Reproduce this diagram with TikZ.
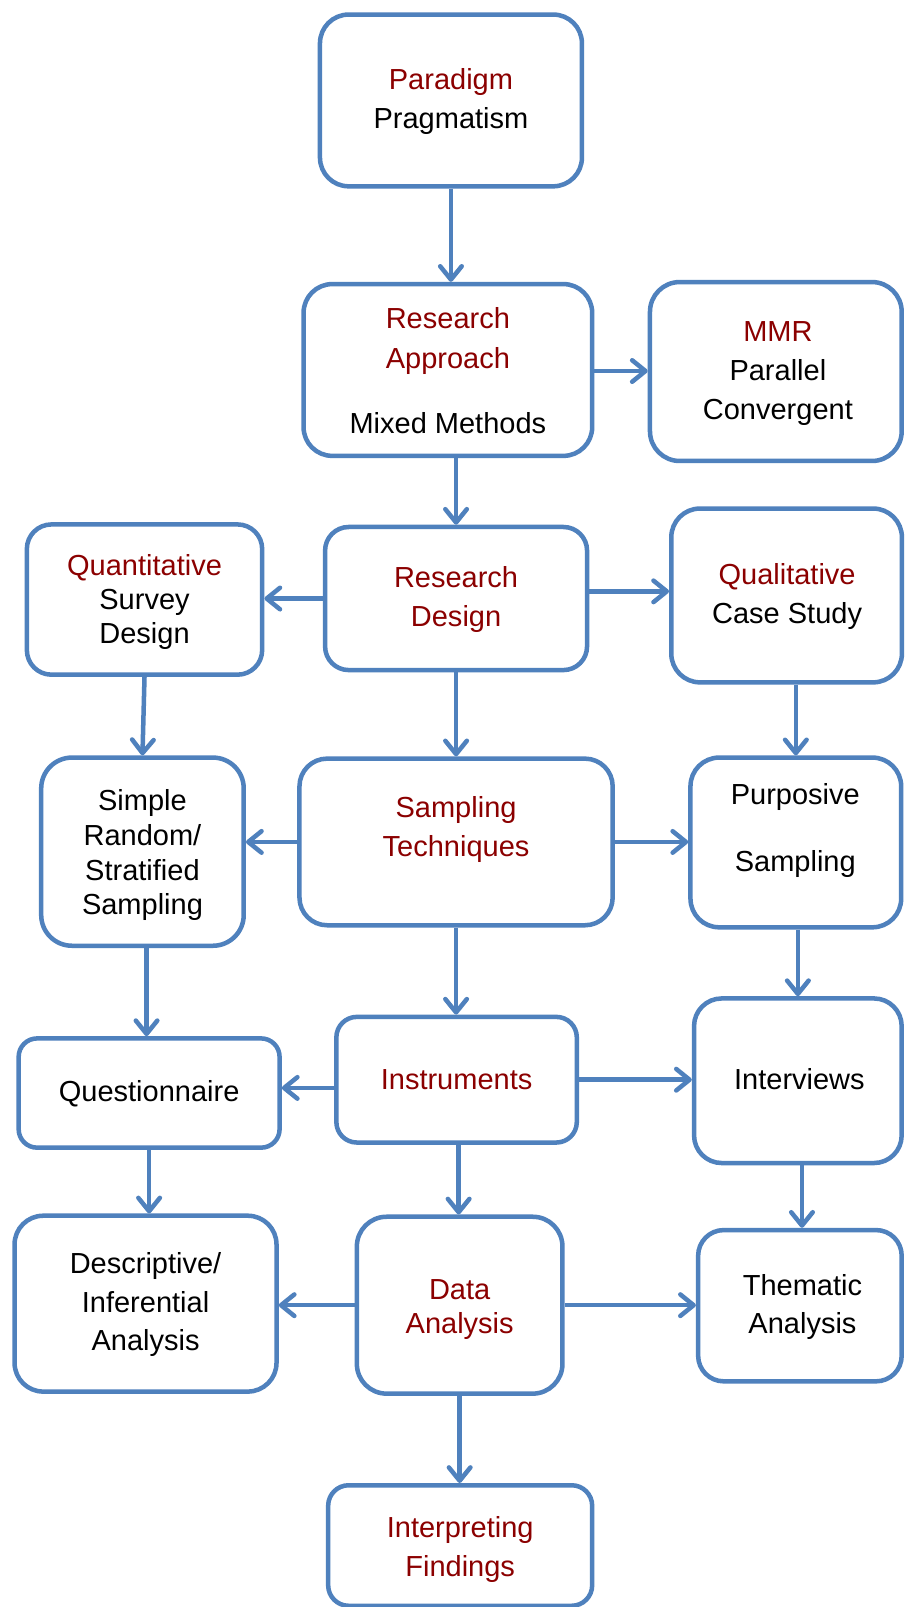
\documentclass[tikz,border=0pt]{standalone}
\usepackage{fontspec}
\setmainfont{Liberation Sans}
\usetikzlibrary{arrows.meta}
\definecolor{boxblue}{RGB}{79,129,189}
\definecolor{darkred}{RGB}{139,0,0}
\begin{document}
\begin{tikzpicture}[x=1pt,y=-1pt,
  box/.style={draw=boxblue, line width=4.4pt, fill=white, rectangle, inner sep=0pt},
  txt/.style={anchor=base, inner sep=0pt, font=\fontsize{28.3}{34}\selectfont, text=black},
  hd/.style={txt, text=darkred},
  arr/.style={draw=boxblue, line width=4.4pt, -{Straight Barb[length=13pt,width=21pt,round]}}
]
\useasboundingbox (0,0) rectangle (883,1568);
\fill[white] (0,0) rectangle (883,1568);
\clip (0,0) rectangle (883,1568);

% boxes
\node[box, minimum width=255.6pt, minimum height=167.6pt, rounded corners=28pt] (par) at (440,98) {};
\node[box, minimum width=281.6pt, minimum height=167.6pt, rounded corners=28pt] (ra) at (437,361) {};
\node[box, minimum width=245.6pt, minimum height=174.6pt, rounded corners=29pt] (mmr) at (757,362.5) {};
\node[box, minimum width=255.6pt, minimum height=139.6pt, rounded corners=23pt] (rd) at (445,584) {};
\node[box, minimum width=229.6pt, minimum height=146.6pt, rounded corners=24pt] (qnt) at (141,585) {};
\node[box, minimum width=225pt, minimum height=169.6pt, rounded corners=28pt] (qlt) at (767.5,581) {};
\node[box, minimum width=305.6pt, minimum height=162.6pt, rounded corners=27pt] (st) at (445,821.5) {};
\node[box, minimum width=197.6pt, minimum height=183.6pt, rounded corners=30pt] (sr) at (139,831) {};
\node[box, minimum width=205.6pt, minimum height=165.6pt, rounded corners=28pt] (pur) at (776.5,822) {};
\node[box, minimum width=234.6pt, minimum height=122.6pt, rounded corners=20pt] (ins) at (445.5,1053.5) {};
\node[box, minimum width=254.6pt, minimum height=106.6pt, rounded corners=18pt] (que) at (145.5,1066.5) {};
\node[box, minimum width=202.6pt, minimum height=160.6pt, rounded corners=27pt] (int) at (778.5,1054.5) {};
\node[box, minimum width=200.6pt, minimum height=172.6pt, rounded corners=29pt] (da) at (448.5,1273.5) {};
\node[box, minimum width=255.6pt, minimum height=171.6pt, rounded corners=28pt] (des) at (142,1272) {};
\node[box, minimum width=198.6pt, minimum height=147.6pt, rounded corners=25pt] (thm) at (780.5,1274) {};
\node[box, minimum width=257.6pt, minimum height=117.6pt, rounded corners=20pt] (ifd) at (449,1508) {};

% texts
\node[hd]  (tpar1) at (440,87) {Paradigm};
\node[txt] (tpar2) at (440,125) {Pragmatism};
\node[hd]  (tra1) at (437,321) {Research};
\node[hd]  (tra2) at (437,360) {Approach};
\node[txt] (tra3) at (437,423) {Mixed Methods};
\node[hd]  (tmmr1) at (759,333) {MMR};
\node[txt] (tmmr2) at (759,371) {Parallel};
\node[txt] (tmmr3) at (759,409) {Convergent};
\node[hd]  (tqnt1) at (141,562) {Quantitative};
\node[txt] (tqnt2) at (141,595) {Survey};
\node[txt] (tqnt3) at (141,628) {Design};
\node[hd]  (trd1) at (445,573) {Research};
\node[hd]  (trd2) at (445,611) {Design};
\node[hd]  (tqlt1) at (768,570) {Qualitative};
\node[txt] (tqlt2) at (768,608) {Case Study};
\node[txt] (tsr1) at (139,791) {Simple};
\node[txt] (tsr2) at (139,825) {Random/};
\node[txt] (tsr3) at (139,859) {Stratified};
\node[txt] (tsr4) at (139,892) {Sampling};
\node[hd]  (tst1) at (445,798) {Sampling};
\node[hd]  (tst2) at (445,836) {Techniques};
\node[txt] (tpur1) at (776,785) {Purposive};
\node[txt] (tpur2) at (776,850) {Sampling};
\node[hd]  (tins) at (445.5,1063) {Instruments};
\node[txt] (tque) at (145.5,1075) {Questionnaire};
\node[txt] (tint) at (780,1063) {Interviews};
\node[txt] (tdes1) at (142,1243) {Descriptive/};
\node[txt] (tdes2) at (142,1281) {Inferential};
\node[txt] (tdes3) at (142,1318) {Analysis};
\node[hd]  (tda1) at (448.5,1268) {Data};
\node[hd]  (tda2) at (448.5,1301) {Analysis};
\node[txt] (tthm1) at (783,1264) {Thematic};
\node[txt] (tthm2) at (783,1301) {Analysis};
\node[hd]  (tifd1) at (449,1500) {Interpreting};
\node[hd]  (tifd2) at (449,1538) {Findings};

% connectors
\draw[arr] (par.south) -- (par.south |- ra.north);
\draw[arr] ([yshift=-1pt]ra.east) -- ([yshift=-1pt]ra.east -| mmr.west);
\draw[arr] (rd.north |- ra.south) -- (rd.north);
\draw[arr] (rd.west) -- (rd.west -| qnt.east);
\draw[arr] ([yshift=7pt]rd.east) -- ([yshift=7pt]rd.east -| qlt.west);
\draw[arr] (rd.south) -- (rd.south |- st.north);
\draw[arr] (qnt.south) -- (sr.north);
\draw[arr] (st.west) -- (st.west -| sr.east);
\draw[arr] (st.east) -- (st.east -| pur.west);
\draw[arr] (st.south) -- (st.south |- ins.north);
\draw[arr] (pur.north |- qlt.south) -- (pur.north);
\draw[arr] ([xshift=4pt]sr.south) -- ([xshift=4pt]sr.south |- que.north);
\draw[arr] (int.north |- pur.south) -- (int.north);
\draw[arr] ([yshift=-8pt]ins.west) -- ([yshift=-8pt]ins.west -| que.east);
\draw[arr] (ins.east) -- (ins.east -| int.west);
\draw[arr] ([xshift=2pt]ins.south) -- ([xshift=2pt]ins.south |- da.north);
\draw[arr] (que.south) -- (que.south |- des.north);
\draw[arr] ([xshift=4pt]int.south) -- ([xshift=4pt]int.south |- thm.north);
\draw[arr] (da.west) -- (da.west -| des.east);
\draw[arr] (da.east) -- (da.east -| thm.west);
\draw[arr] (da.south) -- (da.south |- ifd.north);
\end{tikzpicture}
\end{document}
